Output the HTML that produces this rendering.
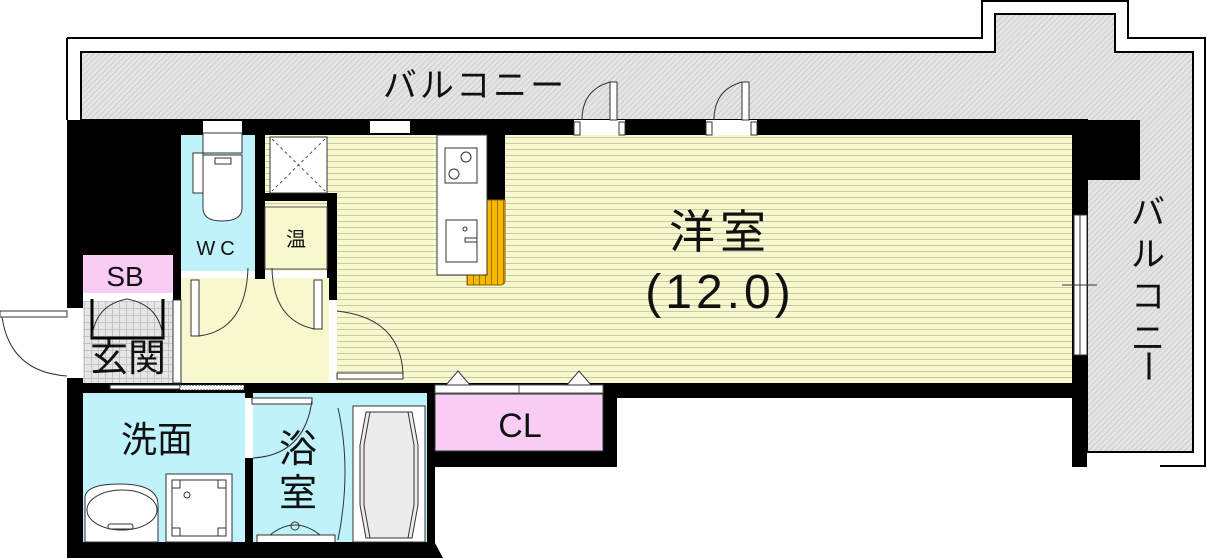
<!DOCTYPE html>
<html><head><meta charset="utf-8"><style>
html,body{margin:0;padding:0;background:#fff;width:1207px;height:558px;overflow:hidden}
svg{display:block}
text{font-family:"Liberation Sans","Noto Sans CJK JP",sans-serif;fill:#111}
</style></head><body>
<svg width="1207" height="558" viewBox="0 0 1207 558" xmlns="http://www.w3.org/2000/svg">
<defs>
<pattern id="hatch" width="4" height="4" patternUnits="userSpaceOnUse" patternTransform="rotate(45)">
<rect width="4" height="4" fill="#e4e4e4"/><line x1="0" y1="0" x2="0" y2="4" stroke="#b8b8b8" stroke-width="1"/>
</pattern>
<pattern id="stripe" width="6" height="6" patternUnits="userSpaceOnUse">
<rect width="6" height="6" fill="#f8f8cf"/><line x1="0" y1="5.5" x2="6" y2="5.5" stroke="#c9c9a8" stroke-width="1"/>
</pattern>
<pattern id="tile" width="7" height="7" patternUnits="userSpaceOnUse">
<rect width="7" height="7" fill="#e6e6e6"/><path d="M0 .5H7M.5 0V7" stroke="#c4c4c4" stroke-width="1"/>
</pattern>
<pattern id="orange" width="6" height="6" patternUnits="userSpaceOnUse">
<rect width="6" height="6" fill="#f7b800"/><line x1="5.5" y1="0" x2="5.5" y2="6" stroke="#a07000" stroke-width="1"/>
</pattern>
</defs>

<path d="M67 38H982V1H1128V38H1205V466H1160" fill="none" stroke="#000" stroke-width="2"/>
<path d="M67 38V120" fill="none" stroke="#000" stroke-width="2"/>
<path d="M81 52H995V14H1115V52H1193V452H1087V120H81Z" fill="url(#hatch)" stroke="#000" stroke-width="2"/>

<path d="M67 120H1140V180H1087V467H1072V398H617V467H435V543L443 558H67Z" fill="#000"/>

<rect x="265" y="135" width="807" height="248" fill="url(#stripe)"/>
<rect x="327" y="193" width="10" height="107" fill="#000"/>
<rect x="263" y="193" width="74" height="8" fill="#000"/>
<rect x="270" y="137" width="57" height="56" fill="#fff" stroke="#333" stroke-width="1"/>
<path d="M272 139L325 191M325 139L272 191" stroke="#555" stroke-dasharray="3,3"/>
<rect x="265" y="207" width="62" height="62" fill="#f8f8cf" stroke="#555" stroke-width="1"/>
<text x="296" y="246" font-size="20" text-anchor="middle">温</text>

<rect x="487" y="135" width="18" height="65" fill="#000"/>
<path d="M467 200H505V280Q505 285 500 285H467Z" fill="url(#orange)" stroke="#8a6000"/>
<rect x="437" y="135" width="50" height="140" fill="#fff" stroke="#333"/>
<rect x="445" y="148" width="32" height="35" fill="#fff" stroke="#333"/>
<circle cx="466" cy="157" r="5" fill="none" stroke="#333"/>
<circle cx="454" cy="174" r="5" fill="none" stroke="#333"/>
<rect x="446" y="220" width="31" height="42" fill="#fff" stroke="#333"/>
<circle cx="465" cy="229" r="2" fill="none" stroke="#333"/>
<rect x="465" y="238" width="12" height="4" fill="#fff" stroke="#333"/>

<rect x="1074" y="215" width="13" height="140" fill="#fff" stroke="#333"/>
<line x1="1080" y1="215" x2="1080" y2="355" stroke="#333"/>
<line x1="1062" y1="285" x2="1097" y2="285" stroke="#333"/>

<rect x="203" y="121" width="39" height="12" fill="#fff"/>
<rect x="370" y="121" width="40" height="12" fill="#fff"/>

<rect x="574" y="120" width="51" height="15" fill="#fff"/>
<rect x="574" y="122" width="6" height="13" fill="#fff" stroke="#333"/>
<rect x="619" y="122" width="6" height="13" fill="#fff" stroke="#333"/>
<rect x="610" y="82" width="7" height="38" fill="#fff" stroke="#333"/>
<path d="M610 82Q582 90 582 120" fill="none" stroke="#333"/>
<rect x="706" y="120" width="51" height="15" fill="#fff"/>
<rect x="706" y="122" width="6" height="13" fill="#fff" stroke="#333"/>
<rect x="751" y="122" width="6" height="13" fill="#fff" stroke="#333"/>
<rect x="742" y="82" width="7" height="38" fill="#fff" stroke="#333"/>
<path d="M742 82Q714 90 714 120" fill="none" stroke="#333"/>

<rect x="435" y="385" width="168" height="8" fill="#fff" stroke="#555"/>
<line x1="519" y1="385" x2="519" y2="393" stroke="#555"/>
<path d="M446 385L458 371L470 385Z" fill="#fff" stroke="#333"/>
<path d="M567 385L579 371L591 385Z" fill="#fff" stroke="#333"/>
<rect x="435" y="394" width="168" height="57" fill="#f9ccf5" stroke="#333"/>
<text x="520" y="437" font-size="34" text-anchor="middle">CL</text>

<rect x="181" y="135" width="74" height="136" fill="#bff2fb"/>
<rect x="203" y="133" width="39" height="20" fill="#fff" stroke="#333"/>
<rect x="193" y="153" width="10" height="40" fill="#fff" stroke="#333"/>
<path d="M203 155H242V208Q242 221 222 221Q203 221 203 208Z" fill="#fff" stroke="#333"/>
<rect x="215" y="158" width="16" height="6" fill="none" stroke="#333"/>
<text x="218" y="255" font-size="20" text-anchor="middle" letter-spacing="5">WC</text>

<rect x="181" y="278" width="148" height="105" fill="#f8f8cf"/>
<rect x="181" y="271" width="146" height="7" fill="#fff"/>
<rect x="255" y="271" width="10" height="8" fill="#000"/>
<rect x="191" y="280" width="8" height="56" fill="#fff" stroke="#333"/>
<path d="M199 336Q246 330 248 268" fill="none" stroke="#333"/>
<rect x="314" y="280" width="8" height="49" fill="#fff" stroke="#333"/>
<path d="M314 329Q273 320 272 268" fill="none" stroke="#333"/>
<rect x="329" y="300" width="8" height="83" fill="#fff"/>
<rect x="337" y="373" width="66" height="6" fill="#fff" stroke="#333"/>
<path d="M337 311Q400 318 403 373" fill="none" stroke="#333"/>

<rect x="83" y="255" width="90" height="38" fill="#f9ccf5"/>
<text x="125" y="286" font-size="28" text-anchor="middle">SB</text>
<rect x="83" y="300" width="90" height="83" fill="url(#tile)"/>
<rect x="83" y="293" width="90" height="8" fill="#fff"/>
<path d="M92 299V338H163V299" fill="none" stroke="#000" stroke-width="3"/>
<path d="M92 338Q95 305 127 299Q160 305 163 338" fill="none" stroke="#333"/>
<rect x="173" y="300" width="8" height="83" fill="#fff" stroke="#333"/>
<text x="128" y="371" font-size="38" text-anchor="middle">玄関</text>
<rect x="67" y="308" width="16" height="70" fill="#fff"/>
<rect x="0" y="311" width="67" height="6" fill="#fff" stroke="#333"/>
<path d="M2 317Q10 372 67 376" fill="none" stroke="#333"/>

<rect x="110" y="385" width="70" height="4" fill="#fff" stroke="#333"/>
<rect x="180" y="385" width="64" height="5" fill="#fff" stroke="#333" stroke-dasharray="2,1"/>

<rect x="83" y="393" width="162" height="149" fill="#bff2fb"/>
<text x="157" y="452" font-size="36" text-anchor="middle">洗面</text>
<path d="M85 542V498Q85 484 120 484Q158 484 158 505V542Z" fill="#fff" stroke="#333"/>
<ellipse cx="122" cy="510" rx="35" ry="20" fill="none" stroke="#333"/>
<rect x="108" y="524" width="25" height="5" rx="2" fill="none" stroke="#333"/>
<rect x="166" y="474" width="66" height="68" fill="#fff" stroke="#333"/>
<rect x="172" y="480" width="54" height="56" fill="none" stroke="#333"/>
<rect x="172" y="480" width="8" height="8" fill="none" stroke="#333"/>
<rect x="218" y="480" width="8" height="8" fill="none" stroke="#333"/>
<rect x="172" y="528" width="8" height="8" fill="none" stroke="#333"/>
<rect x="218" y="528" width="8" height="8" fill="none" stroke="#333"/>
<circle cx="187" cy="495" r="3" fill="none" stroke="#333"/>

<rect x="245" y="393" width="8" height="149" fill="#000"/>
<rect x="245" y="398" width="8" height="60" fill="#fff"/>
<rect x="253" y="393" width="174" height="149" fill="#bff2fb"/>
<rect x="252" y="398" width="60" height="6" fill="#fff" stroke="#333"/>
<path d="M312 400Q305 455 253 458" fill="none" stroke="#333"/>
<text x="298" y="462" font-size="38" text-anchor="middle">浴</text>
<text x="298" y="506" font-size="38" text-anchor="middle">室</text>
<path d="M338 408Q352 470 338 540" fill="none" stroke="#333"/>
<path d="M257 542V535H335V542" fill="#fff" stroke="#333"/>
<path d="M270 535Q295 515 320 535" fill="none" stroke="#333"/>
<circle cx="295" cy="526" r="4" fill="none" stroke="#333"/>
<rect x="353" y="406" width="72" height="136" fill="#fff" stroke="#333"/>
<path d="M366 412H412L418 445V505L412 538H366L360 505V445Z" fill="#ececec" stroke="#333"/>
<path d="M370 412L364 445V505L370 538M408 412L414 445V505L408 538" fill="none" stroke="#333"/>

<text x="475" y="97" font-size="34" text-anchor="middle" letter-spacing="3">バルコニー</text>
<text x="720" y="248" font-size="46" text-anchor="middle" letter-spacing="5">洋室</text>
<text x="720" y="308" font-size="48" text-anchor="middle" letter-spacing="4">(12.0)</text>
<g font-size="34" text-anchor="middle">
<text x="1148" y="224">バ</text>
<text x="1148" y="266">ル</text>
<text x="1148" y="308">コ</text>
<text x="1148" y="350">ニ</text>
<text x="1148" y="378" transform="rotate(90 1148 366)">ー</text>
</g>
</svg>
</body></html>
